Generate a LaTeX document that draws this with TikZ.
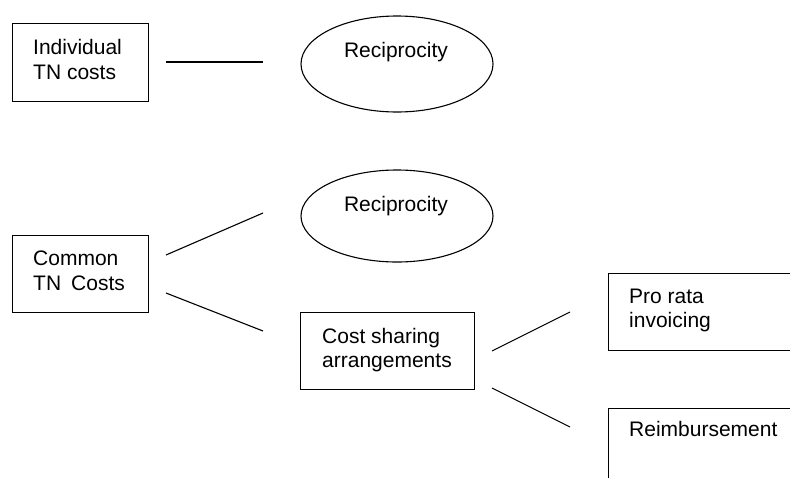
\documentclass[tikz,border=0pt]{standalone}
\usepackage{fontspec}
\setmainfont{Liberation Sans}
\usetikzlibrary{shapes.geometric}
\begin{document}
\begin{tikzpicture}[x=1pt,y=-1pt,
  box/.style={draw, line width=1.1pt, anchor=north west, inner sep=0pt},
  lbl/.style={anchor=base west, inner sep=0pt, font=\fontsize{21}{24.7}\selectfont},
  oval/.style={draw, ellipse, line width=1.1pt, inner sep=0pt},
  link/.style={line width=1.1pt}]
\useasboundingbox (0,0) rectangle (790,477);
\clip (0,0) rectangle (790,477);
% top row
\node[box, minimum width=136pt, minimum height=78pt] (indiv) at (12,23) {};
\node[lbl] (indiv1) at (33,54.3) {Individual};
\node[lbl] (indiv2) at (33,79) {TN costs};
\node[oval, minimum width=192pt, minimum height=96pt] (rec1) at (397,64) {};
\node[lbl, anchor=base] (rec1t) at (396,57.7) {Reciprocity};
\coordinate (a1) at (166,62);
\coordinate (b1) at (263,62);
\draw[link] (a1) -- (b1);
% common costs
\node[box, minimum width=136pt, minimum height=77pt] (common) at (12,235) {};
\node[lbl] (common1) at (33,265.5) {Common};
\node[lbl] (common2) at (33,290) {TN\hspace{10pt}Costs};
\node[oval, minimum width=192pt, minimum height=92pt] (rec2) at (397,216) {};
\node[lbl, anchor=base] (rec2t) at (396,211.7) {Reciprocity};
\coordinate (a2) at (166,255);
\coordinate (b2) at (263,213);
\draw[link] (a2) -- (b2);
\coordinate (a3) at (166,293);
\coordinate (b3) at (263,331);
\draw[link] (a3) -- (b3);
% cost sharing
\node[box, minimum width=174pt, minimum height=77pt] (cost) at (300,312) {};
\node[lbl] (cost1) at (322,343) {Cost sharing};
\node[lbl] (cost2) at (322,367) {arrangements};
\coordinate (a4) at (492,351);
\coordinate (b4) at (570,312);
\draw[link] (a4) -- (b4);
\coordinate (a5) at (492,388);
\coordinate (b5) at (570,427);
\draw[link] (a5) -- (b5);
% right boxes
\node[box, minimum width=200pt, minimum height=77pt] (pro) at (608,273) {};
\node[lbl] (pro1) at (629,303) {Pro rata};
\node[lbl] (pro2) at (629,327.7) {invoicing};
\node[box, minimum width=200pt, minimum height=100pt] (reim) at (608,408) {};
\node[lbl] (reim1) at (629,436.7) {Reimbursement};
\end{tikzpicture}
\end{document}
